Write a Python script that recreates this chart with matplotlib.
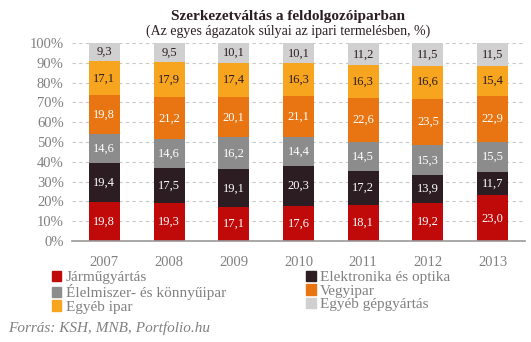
import matplotlib.pyplot as plt
from matplotlib.patches import Patch

# values in %
years = ["2007", "2008", "2009", "2010", "2011", "2012", "2013"]
jarmu = [19.8, 19.3, 17.1, 17.6, 18.1, 19.2, 23.0]
elektronika = [19.4, 17.5, 19.1, 20.3, 17.2, 13.9, 11.7]
elelmiszer = [14.6, 14.6, 16.2, 14.4, 14.5, 15.3, 15.5]
vegyipar = [19.8, 21.2, 20.1, 21.1, 22.6, 23.5, 22.9]
egyeb_ipar = [17.1, 17.9, 17.4, 16.3, 16.3, 16.6, 15.4]
egyeb_gep = [9.3, 9.5, 10.1, 10.1, 11.2, 11.5, 11.5]

series = [
    ("Járműgyártás", jarmu, "#C00A0A", "white"),
    ("Elektronika és optika", elektronika, "#2B1D22", "white"),
    ("Élelmiszer- és könnyűipar", elelmiszer, "#8C8C8C", "white"),
    ("Vegyipar", vegyipar, "#E87512", "white"),
    ("Egyéb ipar", egyeb_ipar, "#F7A51F", "#2B1D22"),
    ("Egyéb gépgyártás", egyeb_gep, "#D0D0D0", "#2B1D22"),
]

plt.rcParams['font.family'] = ['Liberation Serif', 'DejaVu Serif']

fig = plt.figure(figsize=(5.31, 3.42), dpi=100)
ax = fig.add_axes([0.1356, 0.2953, 0.853, 0.579])

x = list(range(len(years)))
bottom = [0] * len(years)
for name, vals, col, tcol in series:
    ax.bar(x, vals, width=0.48, bottom=bottom, color=col, zorder=2)
    for i, v in enumerate(vals):
        ax.text(x[i], bottom[i] + v / 2, f"{v:.1f}".replace(".", ","),
                ha="center", va="center", color=tcol, fontsize=9, zorder=3)
    bottom = [b + v for b, v in zip(bottom, vals)]

ax.set_xlim(-0.5, 6.5)
ax.set_ylim(0, 100)
ax.set_yticks(range(0, 101, 10))
ax.set_yticklabels([f"{t}%" for t in range(0, 101, 10)])
ax.set_xticks(x)
ax.set_xticklabels(years)
ax.tick_params(length=0, colors="#808080", labelsize=10.5)
ax.tick_params(axis="y", pad=6)
ax.tick_params(axis="x", pad=11)
ax.yaxis.grid(True, linestyle=(0, (3, 3)), color="#C8C8C8", linewidth=0.8, zorder=0)
for s in ["top", "right", "left"]:
    ax.spines[s].set_visible(False)
ax.spines["bottom"].set_color("#999999")
ax.spines["bottom"].set_linewidth(1.2)

fig.text(0.543, 0.953, "Szerkezetváltás a feldolgozóiparban", ha="center",
         va="center", fontsize=11, fontweight="bold", color="#2B1D22")
fig.text(0.543, 0.908, "(Az egyes ágazatok súlyai az ipari termelésben, %)",
         ha="center", va="center", fontsize=10, color="#2B1D22")

handles = [Patch(color=c, label=n) for n, v, c, t in series]
order = [0, 2, 4, 1, 3, 5]
leg = fig.legend([handles[i] for i in order], [handles[i].get_label() for i in order],
                 ncol=2, loc="upper left", bbox_to_anchor=(0.097, 0.208),
                 frameon=False, fontsize=11, handlelength=0.65, handleheight=0.65,
                 handletextpad=0.3, labelspacing=0.0, columnspacing=5.2,
                 borderpad=0, borderaxespad=0)
for t in leg.get_texts():
    t.set_color("#808080")

fig.text(0.015, 0.04, "Forrás: KSH, MNB, Portfolio.hu", ha="left", va="center",
         fontsize=11, style="italic", color="#808080")

fig.savefig("out.png", dpi=100)
